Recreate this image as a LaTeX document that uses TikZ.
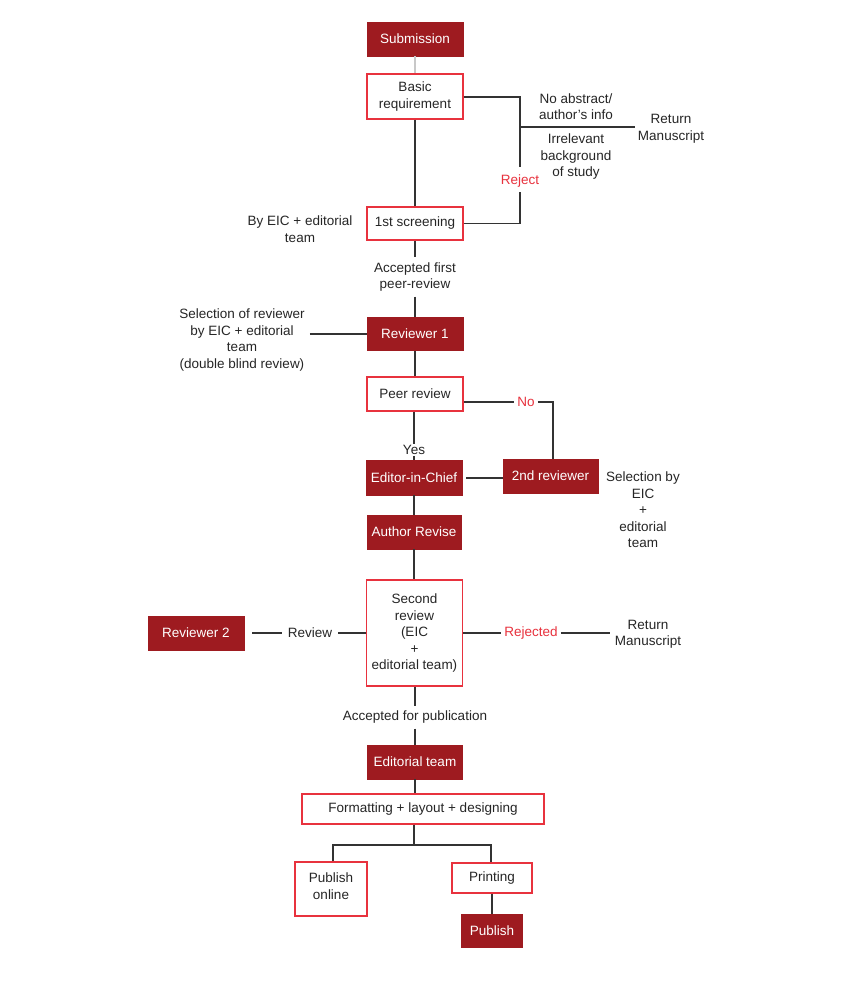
\documentclass[tikz,border=0pt]{standalone}
\usepackage{fontspec}
\setmainfont{Liberation Sans}
\definecolor{darkred}{HTML}{9E1B20}
\definecolor{boxred}{HTML}{E8323E}
\definecolor{linegray}{HTML}{333333}
\definecolor{lightline}{HTML}{C8C8C8}
\begin{document}
\begin{tikzpicture}[x=1pt,y=-1pt,
  every node/.style={font=\fontsize{13.5}{16.5}\selectfont, align=center},
  darkbox/.style={draw=darkred, fill=darkred, text=white, inner sep=0pt, line width=0.8pt},
  whitebox/.style={draw=boxred, fill=white, text=black!85, inner sep=0pt, line width=1.2pt},
  lbl/.style={text=black!85, inner sep=3pt},
  redlbl/.style={text=boxred, inner sep=3pt},
  conn/.style={draw=linegray, line width=1.3pt}]
\useasboundingbox (0,0) rectangle (856,986);
\fill[white] (0,0) rectangle (856,986);

% boxes
\node[darkbox, minimum width=96, minimum height=34] (sub) at (415,39) {Submission};
\node[whitebox, minimum width=96, minimum height=45] (basic) at (415,96.5) {Basic\\requirement};
\node[whitebox, minimum width=96, minimum height=33] (scr) at (415,223.5) {1st screening};
\node[darkbox, minimum width=96, minimum height=33] (rev1) at (415,334) {Reviewer 1};
\node[whitebox, minimum width=96, minimum height=34] (peer) at (415,394) {Peer review};
\node[darkbox, minimum width=96, minimum height=35] (eic) at (414,477.5) {Editor-in-Chief};
\node[darkbox, minimum width=95, minimum height=34] (rev2nd) at (550.5,476) {2nd reviewer};
\node[darkbox, minimum width=94, minimum height=34] (author) at (414,532) {Author Revise};
\node[whitebox, minimum width=96, minimum height=106] (second) at (414.5,633) {Second\\review\\(EIC\\+\\editorial team)};
\node[darkbox, minimum width=96, minimum height=34] (reviewer2) at (196,633) {Reviewer 2};
\node[darkbox, minimum width=95, minimum height=34] (edteam) at (415,762) {Editorial team};
\node[whitebox, minimum width=242, minimum height=30] (fmt) at (423,809) {Formatting + layout + designing};
\node[whitebox, minimum width=72, minimum height=54, text depth=6pt] (online) at (331,889) {Publish\\online};
\node[whitebox, minimum width=80, minimum height=30] (printing) at (492,878) {Printing};
\node[darkbox, minimum width=61, minimum height=33] (publish) at (492,930.5) {Publish};

% labels
\node[lbl] (noabs) at (576,106.5) {No abstract/\\author's info};
\node[lbl] (irrel) at (576,157) {Irrelevant\\background\\of study};
\node[lbl] (ret1) at (671,129) {Return\\Manuscript};
\node[redlbl, inner ysep=5pt] (reject) at (520,181) {Reject};
\node[lbl] (byeic) at (300,229) {By EIC + editorial\\team};
\node[lbl, inner ysep=5pt] (accfirst) at (415,277) {Accepted first\\peer-review};
\node[lbl] (selrev) at (242,340) {Selection of reviewer\\by EIC + editorial\\team\\(double blind review)};
\node[redlbl] (no) at (526,402) {No};
\node[lbl, inner ysep=1pt] (yes) at (414,450) {Yes};
\node[lbl] (selby) at (643,510) {Selection by\\EIC\\+\\editorial\\team};
\node[lbl, inner xsep=6pt] (review) at (310,633) {Review};
\node[redlbl] (rejected) at (531,633) {Rejected};
\node[lbl, inner xsep=5pt] (ret2) at (648,634) {Return\\Manuscript};
\node[lbl, inner ysep=5pt] (accpub) at (415,717) {Accepted for publication};

% junction coordinates
\coordinate (jA) at (520,97);
\coordinate (jB) at (520,167);
\coordinate (jC) at (520,127);
\coordinate (split) at (414,845);
\coordinate (peerE) at ([yshift=-8]peer.east);
\coordinate (eicE) at ([yshift=-0.5]eic.east);

% connectors
\draw[draw=lightline, line width=1.3pt] (sub.south) -- (basic.north);
\draw[conn] (basic.east |- jA) -- (jA) -- (jB);
\draw[conn] (jC) -- (jC -| ret1.west);
\draw[conn] (reject.south) |- (scr.east);
\draw[conn] (basic.south) -- (scr.north);
\draw[conn] (scr.south) -- (accfirst.north);
\draw[conn] (accfirst.south) -- (rev1.north);
\draw[conn] ([xshift=2]selrev.east |- rev1.west) -- (rev1.west);
\draw[conn] (rev1.south) -- (peer.north);
\draw[conn] (peerE) -- (peerE -| no.west);
\draw[conn] (no.east) -| ([xshift=2.5]rev2nd.north);
\draw[conn] (peer.south -| yes.north) -- (yes.north);
\draw[conn] (yes.south) -- (eic.north);
\draw[conn, shorten <=4pt] (eicE) -- (eicE -| rev2nd.west);
\draw[conn] (eic.south) -- (author.north);
\draw[conn] (author.south) -- (author.south |- second.north);
\draw[conn] ([xshift=8]reviewer2.east) -- (review.west);
\draw[conn] (review.east) -- (second.west);
\draw[conn] (second.east) -- (rejected.west);
\draw[conn] (rejected.east) -- (rejected.east -| ret2.west);
\draw[conn] (second.south -| accpub.north) -- (accpub.north);
\draw[conn] (accpub.south) -- (edteam.north);
\draw[conn] (edteam.south) -- (edteam.south |- fmt.north);
\draw[conn] (fmt.south -| split) -- (split);
\draw[conn] ([xshift=2]online.north) |- (split) -| ([xshift=-1]printing.north);
\draw[conn] (printing.south) -- (publish.north);
\end{tikzpicture}
\end{document}
